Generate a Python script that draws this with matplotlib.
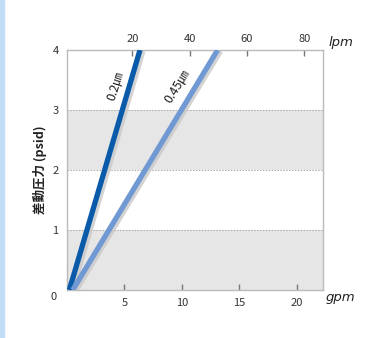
import matplotlib.pyplot as plt
import matplotlib.patheffects as pe
from matplotlib.patches import Rectangle

plt.rcParams['font.family'] = ['Noto Sans CJK JP', 'DejaVu Sans']

# Flow (gpm) against differential pressure (psid) for each filter grade
grades = ['0.2㎛', '0.45㎛']
flow_gpm = [[0.2, 6.35], [0.5, 13.1]]
pressure_psid = [[0, 4], [0, 4]]
line_colors = ['#0a5aaa', '#7098d2']
label_pos = [(4.25, 3.4), (9.6, 3.4)]
label_rot = [72, 58]

y_ticks = [1, 2, 3, 4]
x_ticks = [5, 10, 15, 20]
lpm_ticks = [20, 40, 60, 80]
bands = [(0, 1), (2, 3)]


def gpm_to_lpm(g):
    return 4.014 * g - 2.86


def lpm_to_gpm(l):
    return (l + 2.86) / 4.014


fig = plt.figure(figsize=(3.76, 3.38), dpi=100)
fig.patches.append(Rectangle((0, 0), 4 / 376, 1, transform=fig.transFigure,
                             color='#c0dcf6', zorder=0))
ax = fig.add_axes([67 / 376, 48 / 338, 256 / 376, 240 / 338])

ax.set_xlim(0, 22.27)
ax.set_ylim(0, 4)

for lo, hi in bands:
    ax.axhspan(lo, hi, color='#e6e6e6', lw=0, zorder=0)
for y in [1, 2, 3]:
    ax.axhline(y, color='#aaaaaa', lw=0.7, ls=(0, (1.5, 1.5)), zorder=1)

for i, name in enumerate(grades):
    ax.plot(flow_gpm[i], pressure_psid[i], color=line_colors[i], lw=3.8,
            solid_capstyle='butt', zorder=3,
            path_effects=[pe.SimpleLineShadow(offset=(1.8, -0.6), shadow_color='#c8c8c8',
                                              alpha=0.8, linewidth=4.5),
                          pe.Normal()])
    ax.text(label_pos[i][0], label_pos[i][1], name, rotation=label_rot[i],
            ha='center', va='center', rotation_mode='anchor', fontsize=9,
            color='#222222', zorder=4)

for s in ax.spines.values():
    s.set_color('#bbbbbb')
    s.set_linewidth(1.0)

ax.set_xticks(x_ticks)
ax.set_yticks(y_ticks)
ax.tick_params(axis='x', direction='in', length=4, width=1, color='#777777',
               labelsize=8, labelcolor='#333333', pad=6)
ax.tick_params(axis='y', length=0, labelsize=8, labelcolor='#333333', pad=6)
ax.text(-0.04, -0.03, '0', transform=ax.transAxes, ha='right', va='center',
        fontsize=8, color='#333333')

top = ax.secondary_xaxis('top', functions=(gpm_to_lpm, lpm_to_gpm))
top.set_xticks(lpm_ticks)
top.spines['top'].set_visible(False)
top.tick_params(direction='in', length=4, width=1, color='#777777',
                labelsize=8, labelcolor='#333333', pad=4)

ax.text(1.01, -0.03, 'gpm', transform=ax.transAxes, ha='left', va='center',
        fontsize=9.5, style='italic', family='DejaVu Sans', color='#222222')
ax.text(1.02, 1.03, 'lpm', transform=ax.transAxes, ha='left', va='center',
        fontsize=9.5, style='italic', family='DejaVu Sans', color='#222222')

ax.set_ylabel('差動圧力 (psid)', fontsize=9, fontweight='bold', color='#222222',
              labelpad=4)

fig.savefig('out.png', dpi=100)
